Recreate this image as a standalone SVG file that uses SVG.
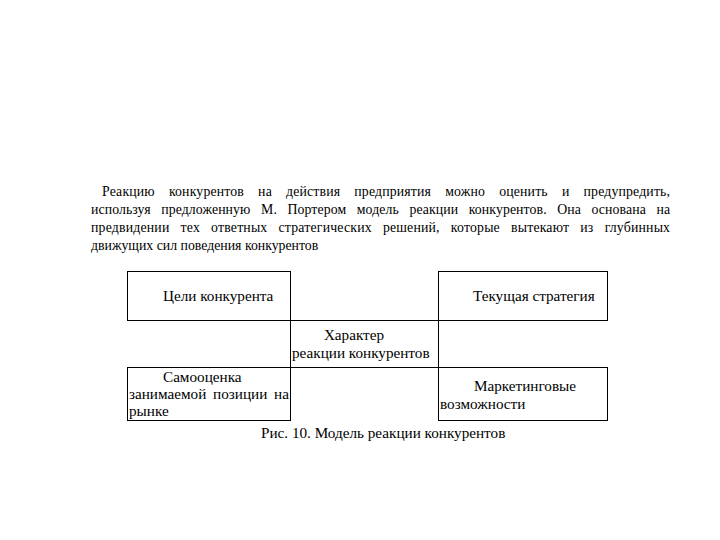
<svg xmlns="http://www.w3.org/2000/svg" width="720" height="540" viewBox="0 0 720 540">
<style>
text { fill: #000; }
.p { font-size: 13.8px; }
.b { font-size: 15.2px; }
.c { font-size: 15.2px; }
.cell { fill: #fff; stroke: #000; stroke-width: 1; }
</style>
<rect width="720" height="540" fill="#fff"/>
<g font-family="'Liberation Serif', 'Times New Roman', serif">
<g id="paragraph">
<text class="p" x="102" y="196" word-spacing="10.5" textLength="568" lengthAdjust="spacing">Реакцию конкурентов на действия предприятия можно оценить и предупредить,</text>
<text class="p" x="91" y="214" word-spacing="7" textLength="579" lengthAdjust="spacing">используя предложенную М. Портером модель реакции конкурентов. Она основана на</text>
<text class="p" x="91" y="232" word-spacing="7.5" textLength="579" lengthAdjust="spacing">предвидении тех ответных стратегических решений, которые вытекают из глубинных</text>
<text class="p" x="91" y="250">движущих сил поведения конкурентов</text>
</g>
<g id="goals">
<rect class="cell" x="127.5" y="271.5" width="163" height="49"/>
<text class="b" x="163" y="301">Цели конкурента</text>
</g>
<g id="strategy">
<rect class="cell" x="438.5" y="271.5" width="169" height="49"/>
<text class="b" x="473" y="301">Текущая стратегия</text>
</g>
<g id="reaction">
<rect class="cell" x="290.5" y="320.5" width="148" height="47"/>
<text class="b" x="354" y="340" text-anchor="middle">Характер</text>
<text class="b" x="292" y="358">реакции конкурентов</text>
</g>
<g id="selfassessment">
<rect class="cell" x="127.5" y="367.5" width="163" height="53"/>
<text class="b" x="163" y="382">Самооценка</text>
<text class="b" x="129" y="399" word-spacing="3" textLength="160" lengthAdjust="spacing">занимаемой позиции на</text>
<text class="b" x="129" y="416">рынке</text>
</g>
<g id="marketing">
<rect class="cell" x="438.5" y="367.5" width="169" height="53"/>
<text class="b" x="474" y="391">Маркетинговые</text>
<text class="b" x="440" y="409">возможности</text>
</g>
<g id="connectors"></g>
<text class="c" x="261" y="438">Рис. 10. Модель реакции конкурентов</text>
</g>
</svg>
